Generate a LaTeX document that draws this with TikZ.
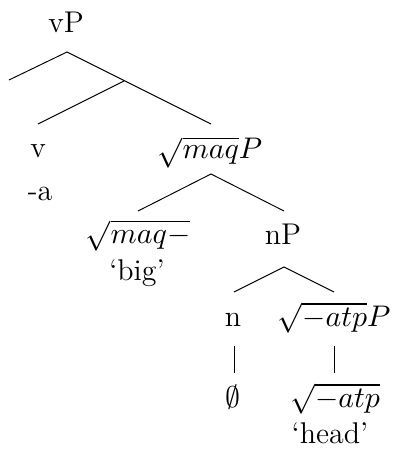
\documentclass[tikz,border=0pt]{standalone}
\usepackage{amsmath}
\usepackage{amssymb}
\usepackage{tikz}

\begin{document}
\begin{tikzpicture}[
        x=0.367pt, y=-0.367pt,
        cat/.style={anchor=base, inner sep=0pt, font=\fontsize{11pt}{13pt}\selectfont},
        branch/.style={line width=0.35pt}
    ]
    \useasboundingbox (0,0) rectangle (394,456);

    % Labels
    \node[cat] (vP) at (66, 32) {vP};
    \node[cat] (v) at (38, 157) {v};
    \node[cat] (va) at (40, 200) {-a};
    \node[cat] (maqP) at (210, 158) {$\sqrt{maq}P$};
    \node[cat] (maq) at (138, 243) {$\sqrt{maq-}$};
    \node[cat] (big) at (137, 280) {`big'};
    \node[cat] (nP) at (283, 244) {nP};
    \node[cat] (n) at (233, 326) {n};
    \node[cat] (atpP) at (334, 326) {$\sqrt{-atp}P$};
    \node[cat] (null) at (233, 407) {$\emptyset$};
    \node[cat] (atp) at (335, 407) {$\sqrt{-atp}$};
    \node[cat] (head) at (330, 443) {`head'};

    % Branch points
    \coordinate (vP-top) at (67, 52);
    \coordinate (vP-l) at (9, 80);
    \coordinate (vP-r) at (211, 124);
    \coordinate (vP-m) at (124, 81);
    \coordinate (v-top) at (38, 124);
    \coordinate (maqP-top) at (211, 174);
    \coordinate (maqP-l) at (138, 211);
    \coordinate (maqP-r) at (284, 211);
    \coordinate (nP-top) at (284, 267);
    \coordinate (nP-l) at (234, 292);
    \coordinate (nP-r) at (334, 292);
    \coordinate (n-a) at (234, 346);
    \coordinate (n-b) at (234, 373);
    \coordinate (atpP-a) at (334, 346);
    \coordinate (atpP-b) at (334, 373);

    % Branches
    \draw[branch] (vP-l) -- (vP-top) -- (vP-r);
    \draw[branch] (vP-m) -- (v-top);
    \draw[branch] (maqP-l) -- (maqP-top) -- (maqP-r);
    \draw[branch] (nP-l) -- (nP-top) -- (nP-r);
    \draw[branch] (n-a) -- (n-b);
    \draw[branch] (atpP-a) -- (atpP-b);
\end{tikzpicture}
\end{document}
